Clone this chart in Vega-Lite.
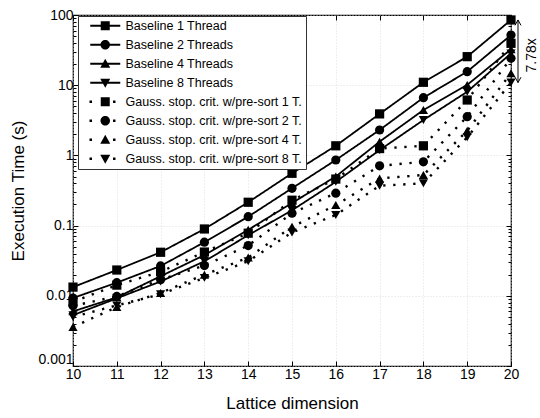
{
"$schema": "https://vega.github.io/schema/vega-lite/v6.json",
"width": 438, "height": 351,
"autosize": {"type": "none"},
"padding": {"left": 73, "top": 15, "right": 29, "bottom": 52},
"background": "white",
"config": {
  "view": {"stroke": "black", "strokeWidth": 1.2},
  "font": "Liberation Sans",
  "axis": {"domain": false, "labelFont": "Liberation Sans", "labelFontSize": 14, "labelColor": "black", "titleFont": "Liberation Sans", "titleFontSize": 17, "titleFontWeight": "normal", "titleColor": "black", "tickColor": "black", "tickWidth": 1, "gridColor": "#d6d6d6", "gridDash": [1, 2], "gridWidth": 0.8, "labelFlush": false, "labelOverlap": false}
},
"datasets": {
  "pts": [
    {"s":"Baseline 1 Thread","t":"B","x":10,"y":0.0133},{"s":"Baseline 1 Thread","t":"B","x":11,"y":0.0233},{"s":"Baseline 1 Thread","t":"B","x":12,"y":0.0417},{"s":"Baseline 1 Thread","t":"B","x":13,"y":0.0895},{"s":"Baseline 1 Thread","t":"B","x":14,"y":0.215},{"s":"Baseline 1 Thread","t":"B","x":15,"y":0.556},{"s":"Baseline 1 Thread","t":"B","x":16,"y":1.37},{"s":"Baseline 1 Thread","t":"B","x":17,"y":3.9},{"s":"Baseline 1 Thread","t":"B","x":18,"y":11.0},{"s":"Baseline 1 Thread","t":"B","x":19,"y":25.5},{"s":"Baseline 1 Thread","t":"B","x":20,"y":85},
    {"s":"Baseline 2 Threads","t":"B","x":10,"y":0.0093},{"s":"Baseline 2 Threads","t":"B","x":11,"y":0.0154},{"s":"Baseline 2 Threads","t":"B","x":12,"y":0.0266},{"s":"Baseline 2 Threads","t":"B","x":13,"y":0.058},{"s":"Baseline 2 Threads","t":"B","x":14,"y":0.134},{"s":"Baseline 2 Threads","t":"B","x":15,"y":0.34},{"s":"Baseline 2 Threads","t":"B","x":16,"y":0.86},{"s":"Baseline 2 Threads","t":"B","x":17,"y":2.3},{"s":"Baseline 2 Threads","t":"B","x":18,"y":6.64},{"s":"Baseline 2 Threads","t":"B","x":19,"y":15.6},{"s":"Baseline 2 Threads","t":"B","x":20,"y":51.9},
    {"s":"Baseline 4 Threads","t":"B","x":10,"y":0.0060},{"s":"Baseline 4 Threads","t":"B","x":11,"y":0.0095},{"s":"Baseline 4 Threads","t":"B","x":12,"y":0.019},{"s":"Baseline 4 Threads","t":"B","x":13,"y":0.038},{"s":"Baseline 4 Threads","t":"B","x":14,"y":0.087},{"s":"Baseline 4 Threads","t":"B","x":15,"y":0.21},{"s":"Baseline 4 Threads","t":"B","x":16,"y":0.50},{"s":"Baseline 4 Threads","t":"B","x":17,"y":1.57},{"s":"Baseline 4 Threads","t":"B","x":18,"y":4.43},{"s":"Baseline 4 Threads","t":"B","x":19,"y":10.1},{"s":"Baseline 4 Threads","t":"B","x":20,"y":32.5},
    {"s":"Baseline 8 Threads","t":"B","x":10,"y":0.0053},{"s":"Baseline 8 Threads","t":"B","x":11,"y":0.0092},{"s":"Baseline 8 Threads","t":"B","x":12,"y":0.016},{"s":"Baseline 8 Threads","t":"B","x":13,"y":0.031},{"s":"Baseline 8 Threads","t":"B","x":14,"y":0.073},{"s":"Baseline 8 Threads","t":"B","x":15,"y":0.165},{"s":"Baseline 8 Threads","t":"B","x":16,"y":0.42},{"s":"Baseline 8 Threads","t":"B","x":17,"y":1.19},{"s":"Baseline 8 Threads","t":"B","x":18,"y":3.19},{"s":"Baseline 8 Threads","t":"B","x":19,"y":8.07},{"s":"Baseline 8 Threads","t":"B","x":20,"y":28.4},
    {"s":"Gauss. stop. crit. w/pre-sort 1 T.","t":"G","x":10,"y":0.0082},{"s":"Gauss. stop. crit. w/pre-sort 1 T.","t":"G","x":11,"y":0.0142},{"s":"Gauss. stop. crit. w/pre-sort 1 T.","t":"G","x":12,"y":0.022},{"s":"Gauss. stop. crit. w/pre-sort 1 T.","t":"G","x":13,"y":0.042},{"s":"Gauss. stop. crit. w/pre-sort 1 T.","t":"G","x":14,"y":0.078},{"s":"Gauss. stop. crit. w/pre-sort 1 T.","t":"G","x":15,"y":0.23},{"s":"Gauss. stop. crit. w/pre-sort 1 T.","t":"G","x":16,"y":0.46},{"s":"Gauss. stop. crit. w/pre-sort 1 T.","t":"G","x":17,"y":1.25},{"s":"Gauss. stop. crit. w/pre-sort 1 T.","t":"G","x":18,"y":1.37},{"s":"Gauss. stop. crit. w/pre-sort 1 T.","t":"G","x":19,"y":6.15},{"s":"Gauss. stop. crit. w/pre-sort 1 T.","t":"G","x":20,"y":39.5},
    {"s":"Gauss. stop. crit. w/pre-sort 2 T.","t":"G","x":10,"y":0.0072},{"s":"Gauss. stop. crit. w/pre-sort 2 T.","t":"G","x":11,"y":0.0098},{"s":"Gauss. stop. crit. w/pre-sort 2 T.","t":"G","x":12,"y":0.017},{"s":"Gauss. stop. crit. w/pre-sort 2 T.","t":"G","x":13,"y":0.027},{"s":"Gauss. stop. crit. w/pre-sort 2 T.","t":"G","x":14,"y":0.052},{"s":"Gauss. stop. crit. w/pre-sort 2 T.","t":"G","x":15,"y":0.15},{"s":"Gauss. stop. crit. w/pre-sort 2 T.","t":"G","x":16,"y":0.29},{"s":"Gauss. stop. crit. w/pre-sort 2 T.","t":"G","x":17,"y":0.71},{"s":"Gauss. stop. crit. w/pre-sort 2 T.","t":"G","x":18,"y":0.81},{"s":"Gauss. stop. crit. w/pre-sort 2 T.","t":"G","x":19,"y":3.56},{"s":"Gauss. stop. crit. w/pre-sort 2 T.","t":"G","x":20,"y":24.2},
    {"s":"Gauss. stop. crit. w/pre-sort 4 T.","t":"G","x":10,"y":0.0036},{"s":"Gauss. stop. crit. w/pre-sort 4 T.","t":"G","x":11,"y":0.0069},{"s":"Gauss. stop. crit. w/pre-sort 4 T.","t":"G","x":12,"y":0.011},{"s":"Gauss. stop. crit. w/pre-sort 4 T.","t":"G","x":13,"y":0.020},{"s":"Gauss. stop. crit. w/pre-sort 4 T.","t":"G","x":14,"y":0.035},{"s":"Gauss. stop. crit. w/pre-sort 4 T.","t":"G","x":15,"y":0.096},{"s":"Gauss. stop. crit. w/pre-sort 4 T.","t":"G","x":16,"y":0.196},{"s":"Gauss. stop. crit. w/pre-sort 4 T.","t":"G","x":17,"y":0.47},{"s":"Gauss. stop. crit. w/pre-sort 4 T.","t":"G","x":18,"y":0.526},{"s":"Gauss. stop. crit. w/pre-sort 4 T.","t":"G","x":19,"y":2.25},{"s":"Gauss. stop. crit. w/pre-sort 4 T.","t":"G","x":20,"y":14.8},
    {"s":"Gauss. stop. crit. w/pre-sort 8 T.","t":"G","x":10,"y":0.0050},{"s":"Gauss. stop. crit. w/pre-sort 8 T.","t":"G","x":11,"y":0.0073},{"s":"Gauss. stop. crit. w/pre-sort 8 T.","t":"G","x":12,"y":0.0105},{"s":"Gauss. stop. crit. w/pre-sort 8 T.","t":"G","x":13,"y":0.018},{"s":"Gauss. stop. crit. w/pre-sort 8 T.","t":"G","x":14,"y":0.031},{"s":"Gauss. stop. crit. w/pre-sort 8 T.","t":"G","x":15,"y":0.08},{"s":"Gauss. stop. crit. w/pre-sort 8 T.","t":"G","x":16,"y":0.142},{"s":"Gauss. stop. crit. w/pre-sort 8 T.","t":"G","x":17,"y":0.37},{"s":"Gauss. stop. crit. w/pre-sort 8 T.","t":"G","x":18,"y":0.40},{"s":"Gauss. stop. crit. w/pre-sort 8 T.","t":"G","x":19,"y":1.81},{"s":"Gauss. stop. crit. w/pre-sort 8 T.","t":"G","x":20,"y":10.9}
  ],
  "ann": [{"x": 20, "top": 85, "bottom": 10.9, "mid": 30.4, "label": "7.78x"}]
},
"layer": [
  {
    "data": {"name": "pts"},
    "mark": {"type": "line", "color": "black"},
    "encoding": {
      "x": {"field": "x", "type": "quantitative", "scale": {"domain": [10, 20], "nice": false, "zero": false},
            "axis": {"orient": "bottom", "values": [10,11,12,13,14,15,16,17,18,19,20], "format": "d", "tickSize": -5, "labelPadding": 6, "grid": true, "title": "Lattice dimension", "titleX": 219, "titleY": 37, "titleBaseline": "middle", "titleAlign": "center"}},
      "y": {"field": "y", "type": "quantitative", "scale": {"type": "log", "domain": [0.001, 100], "nice": false},
            "axis": {"orient": "left", "values": [0.001,0.01,0.1,1,10,100], "format": "~g", "tickSize": -5, "labelPadding": 5, "labelBaseline": {"condition": {"test": "datum.value < 0.0015", "value": "bottom"}, "value": "middle"}, "grid": true, "title": "Execution Time (s)", "titleX": -55, "titleY": 175.5, "titleAngle": 270, "titleBaseline": "middle", "titleAlign": "center"}},
      "detail": {"field": "s"},
      "strokeDash": {"field": "t", "type": "nominal", "scale": {"domain": ["B", "G"], "range": [[1, 0], [2.3, 7.7]]}, "legend": null},
      "strokeWidth": {"field": "t", "type": "nominal", "scale": {"domain": ["B", "G"], "range": [1.8, 2.4]}, "legend": null}
    }
  },
  {
    "data": {"name": "pts"},
    "mark": {"type": "point", "filled": true, "color": "black", "opacity": 1, "size": 85},
    "encoding": {
      "x": {"field": "x", "type": "quantitative", "axis": {"orient": "top", "values": [10,11,12,13,14,15,16,17,18,19,20], "tickSize": -5, "labels": false, "grid": false, "title": null}},
      "y": {"field": "y", "type": "quantitative", "axis": {"orient": "right", "values": [0.001,0.01,0.1,1,10,100], "tickSize": -5, "labels": false, "grid": false, "title": null}},
      "shape": {"field": "s", "type": "nominal",
        "scale": {"domain": ["Baseline 1 Thread","Baseline 2 Threads","Baseline 4 Threads","Baseline 8 Threads","Gauss. stop. crit. w/pre-sort 1 T.","Gauss. stop. crit. w/pre-sort 2 T.","Gauss. stop. crit. w/pre-sort 4 T.","Gauss. stop. crit. w/pre-sort 8 T."],
                  "range": ["square","circle","triangle-up","triangle-down","square","circle","triangle-up","triangle-down"]},
        "legend": null}
    }
  },
  {
    "data": {"name": "pts"},
    "mark": {"type": "point", "filled": true, "color": "black", "opacity": 0},
    "encoding": {
      "x": {"field": "x", "type": "quantitative", "axis": null},
      "y": {"field": "y", "type": "quantitative", "axis": {"orient": "left", "values": [0.002,0.003,0.004,0.005,0.006,0.007,0.008,0.009,0.02,0.03,0.04,0.05,0.06,0.07,0.08,0.09,0.2,0.3,0.4,0.5,0.6,0.7,0.8,0.9,2,3,4,5,6,7,8,9,20,30,40,50,60,70,80,90], "tickSize": -3, "labels": false, "grid": false, "title": null}},
      "shape": {"field": "s", "type": "nominal",
        "scale": {"domain": ["Baseline 1 Thread","Baseline 2 Threads","Baseline 4 Threads","Baseline 8 Threads","Gauss. stop. crit. w/pre-sort 1 T.","Gauss. stop. crit. w/pre-sort 2 T.","Gauss. stop. crit. w/pre-sort 4 T.","Gauss. stop. crit. w/pre-sort 8 T."],
                  "range": ["M-3,-0.2H3V0.2H-3Z M-0.9,-0.9H0.9V0.9H-0.9Z",
                            "M-3,-0.2H3V0.2H-3Z M0.95,0A0.95,0.95 0 1,1 -0.95,0A0.95,0.95 0 1,1 0.95,0Z",
                            "M-3,-0.2H3V0.2H-3Z M0,-1L1,0.8H-1Z",
                            "M-3,-0.2H3V0.2H-3Z M0,1L-1,-0.8H1Z",
                            "M-3.15,-0.25H-2.65V0.25H-3.15Z M1.55,-0.25H2.05V0.25H1.55Z M-0.9,-0.9H0.9V0.9H-0.9Z",
                            "M-3.15,-0.25H-2.65V0.25H-3.15Z M1.55,-0.25H2.05V0.25H1.55Z M0.95,0A0.95,0.95 0 1,1 -0.95,0A0.95,0.95 0 1,1 0.95,0Z",
                            "M-3.15,-0.25H-2.65V0.25H-3.15Z M1.55,-0.25H2.05V0.25H1.55Z M0,-1L1,0.8H-1Z",
                            "M-3.15,-0.25H-2.65V0.25H-3.15Z M1.55,-0.25H2.05V0.25H1.55Z M0,1L-1,-0.8H1Z"]},
        "legend": {"title": null, "orient": "none", "legendX": 5, "legendY": 1, "strokeColor": "#333333", "fillColor": "white", "padding": 3.5,
                   "labelFont": "Liberation Sans", "labelFontSize": 12.5, "labelColor": "black", "labelLimit": 300,
                   "symbolSize": 100, "symbolOffset": 17.5, "labelOffset": 14, "rowPadding": 6,
                   "symbolFillColor": "black", "symbolStrokeWidth": 0, "symbolOpacity": 1}}
    }
  },
  {
    "data": {"name": "pts"},
    "mark": {"type": "point", "opacity": 0},
    "encoding": {
      "x": {"field": "x", "type": "quantitative", "axis": null},
      "y": {"field": "y", "type": "quantitative", "axis": {"orient": "right", "values": [0.002,0.003,0.004,0.005,0.006,0.007,0.008,0.009,0.02,0.03,0.04,0.05,0.06,0.07,0.08,0.09,0.2,0.3,0.4,0.5,0.6,0.7,0.8,0.9,2,3,4,5,6,7,8,9,20,30,40,50,60,70,80,90], "tickSize": -3, "labels": false, "grid": false, "title": null}}
    }
  },
  {
    "data": {"name": "ann"},
    "mark": {"type": "rule", "color": "black", "strokeWidth": 1, "xOffset": 7},
    "encoding": {
      "x": {"field": "x", "type": "quantitative", "axis": null},
      "y": {"field": "top", "type": "quantitative", "axis": null},
      "y2": {"field": "bottom"}
    }
  },
  {
    "data": {"name": "ann"},
    "mark": {"type": "point", "shape": "M-1,1.8L0,0L1,1.8", "filled": false, "stroke": "black", "strokeWidth": 1, "size": 36, "opacity": 1, "xOffset": 7},
    "encoding": {
      "x": {"field": "x", "type": "quantitative", "axis": null},
      "y": {"field": "top", "type": "quantitative", "axis": null}
    }
  },
  {
    "data": {"name": "ann"},
    "mark": {"type": "point", "shape": "M-1,-1.8L0,0L1,-1.8", "filled": false, "stroke": "black", "strokeWidth": 1, "size": 36, "opacity": 1, "xOffset": 7},
    "encoding": {
      "x": {"field": "x", "type": "quantitative", "axis": null},
      "y": {"field": "bottom", "type": "quantitative", "axis": null}
    }
  },
  {
    "data": {"name": "ann"},
    "mark": {"type": "text", "angle": 270, "xOffset": 21, "yOffset": 4, "fontSize": 14, "font": "Liberation Sans", "align": "center", "baseline": "middle", "color": "black"},
    "encoding": {
      "x": {"field": "x", "type": "quantitative", "axis": null},
      "y": {"field": "mid", "type": "quantitative", "axis": null},
      "text": {"field": "label"}
    }
  }
],
"resolve": {"axis": {"x": "independent", "y": "independent"}, "scale": {"shape": "independent"}}
}
